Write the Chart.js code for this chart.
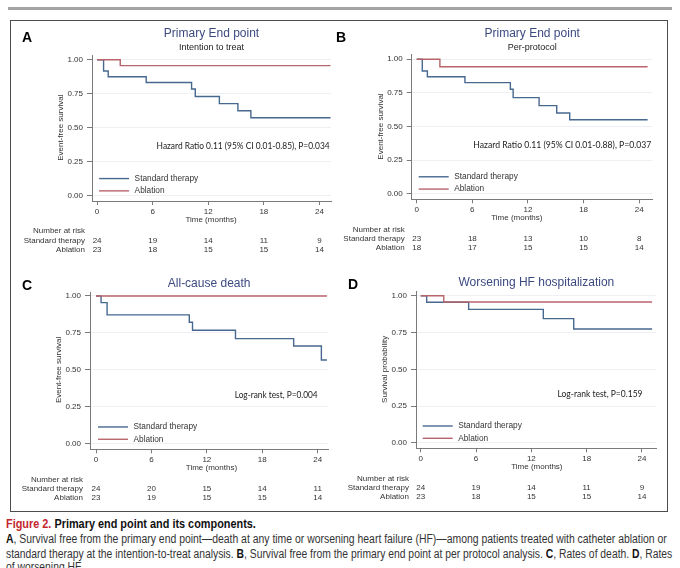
<!DOCTYPE html>
<html>
<head>
<meta charset="utf-8">
<script src="https://cdn.jsdelivr.net/npm/chart.js@4.4.1/dist/chart.umd.min.js"></script>
<style>
  body { margin: 0; background: #fff; }
  #page { position: relative; width: 680px; height: 568px; overflow: hidden; font-family: "Liberation Sans", Arial, sans-serif; }
  #topbar { position: absolute; left: 8px; top: 7px; width: 664px; height: 3px; background: #a3a3a3; }
  #frame { position: absolute; left: 10px; top: 20px; width: 656px; height: 490px; border: 1px solid #4d4d4d; }
  canvas { position: absolute; }
  .cap { position: absolute; left: 6px; white-space: nowrap; line-height: 14px; font-family: "Liberation Sans Narrow", "Liberation Sans", sans-serif; font-size: 12.5px; color: #333; transform-origin: 0 0; }
  .cap b { color: #111; }
</style>
</head>
<body>
<div id="page">
  <div id="topbar"></div>
  <div id="frame"></div>
  <canvas id="cA" width="322" height="240" style="left:11px;top:21px"></canvas>
  <canvas id="cB" width="333" height="240" style="left:333px;top:21px"></canvas>
  <canvas id="cC" width="322" height="248" style="left:11px;top:261px"></canvas>
  <canvas id="cD" width="333" height="248" style="left:333px;top:261px"></canvas>

  <div class="cap" data-w="250" style="top:517px"><b><span style="color:#c4262e">Figure 2.</span> Primary end point and its components.</b></div>
  <div class="cap" data-w="661" style="top:532px"><b>A</b>, Survival free from the primary end point—death at any time or worsening heart failure (HF)—among patients treated with catheter ablation or</div>
  <div class="cap" data-w="666" style="top:547px">standard therapy at the intention-to-treat analysis. <b>B</b>, Survival free from the primary end point at per protocol analysis. <b>C</b>, Rates of death. <b>D</b>, Rates</div>
  <div class="cap" id="capLast" style="top:560px">of worsening HF.</div>
</div>

<script>
// ticks and risk-table columns
const xTicks = [0, 6, 12, 18, 24];
const yTicks = [0, 0.25, 0.5, 0.75, 1];
const riskTimes = [0, 6, 12, 18, 24];
const seriesNames = ['Standard therapy', 'Ablation'];

// A - primary end point, intention to treat
const aStdTime = [0, 0.7, 1.2, 5.3, 10.2, 10.6, 13.2, 15.2, 16.6, 25.2];
const aStdSurv = [1, 0.917, 0.875, 0.833, 0.785, 0.729, 0.677, 0.625, 0.573, 0.573];
const aAblTime = [0, 2.5, 25.2];
const aAblSurv = [1, 0.957, 0.957];
const aRiskStd = [24, 19, 14, 11, 9];
const aRiskAbl = [23, 18, 15, 15, 14];

// B - primary end point, per-protocol
const bStdTime = [0, 0.6, 1.15, 5.2, 10.1, 10.4, 13.2, 15.1, 16.5, 24.9];
const bStdSurv = [1, 0.913, 0.870, 0.826, 0.777, 0.715, 0.655, 0.600, 0.550, 0.550];
const bAblTime = [0, 2.5, 24.9];
const bAblSurv = [1, 0.944, 0.944];
const bRiskStd = [23, 18, 13, 10, 8];
const bRiskAbl = [18, 17, 15, 15, 14];

// C - all-cause death
const cStdTime = [0, 0.55, 1.2, 10.1, 10.45, 15.1, 21.4, 24.4, 25.0];
const cStdSurv = [1, 0.955, 0.872, 0.822, 0.768, 0.712, 0.662, 0.567, 0.567];
const cAblTime = [0, 25.0];
const cAblSurv = [1, 1];
const cRiskStd = [24, 20, 15, 14, 11];
const cRiskAbl = [23, 19, 15, 15, 14];

// D - worsening HF hospitalization
const dStdTime = [0, 0.65, 5.2, 13.3, 16.6, 25.1];
const dStdSurv = [1, 0.955, 0.907, 0.844, 0.774, 0.774];
const dAblTime = [0, 2.5, 25.1];
const dAblSurv = [1, 0.957, 0.957];
const dRiskStd = [24, 19, 14, 11, 9];
const dRiskAbl = [23, 18, 15, 15, 14];

const BLUE = '#47688f', RED = '#b9646b', TITLE = '#3d4a80';
const AXIS = '#7a7a7a', GRID = '#eef0f4', TXT = '#333';
const SANS = '"Liberation Sans", Arial, sans-serif';
const Y_W = 40, X_H = 20;

const panels = [
  { id: 'cA', letter: 'A', title: 'Primary End point', sub: 'Intention to treat', ylab: 'Event-free survival',
    note: 'Hazard Ratio 0.11 (95% CI 0.01-0.85), P=0.034',
    std: [aStdTime, aStdSurv], abl: [aAblTime, aAblSurv], risk: [aRiskStd, aRiskAbl],
    area: [81, 34, 320, 180], xr: [-0.55, 25.25], yr: [-0.04, 1.035],
    letterAt: [11, 21], titleY: 13, subY: 26.7, noteAt: [25.1, 173], timeAt: 12.3 },
  { id: 'cB', letter: 'B', title: 'Primary End point', sub: 'Per-protocol', ylab: 'Event-free survival',
    note: 'Hazard Ratio 0.11 (95% CI 0.01-0.88), P=0.037',
    std: [bStdTime, bStdSurv], abl: [bAblTime, bAblSurv], risk: [bRiskStd, bRiskAbl],
    area: [78.7, 33, 319.7, 178.3], xr: [-0.54, 25.45], yr: [-0.041, 1.039],
    letterAt: [3, 20.5], titleY: 12.3, subY: 26.7, noteAt: [25.3, 178], timeAt: 10.8 },
  { id: 'cC', letter: 'C', title: 'All-cause death', ylab: 'Event-free survival',
    note: 'Log-rank test, P=0.004',
    std: [cStdTime, cStdSurv], abl: [cAblTime, cAblSurv], risk: [cRiskStd, cRiskAbl],
    area: [79, 31.7, 317.3, 188.3], xr: [-0.65, 25.15], yr: [-0.036, 1.022],
    letterAt: [11, 29], titleY: 23, noteAt: [24.0, 83], timeAt: 12.5 },
  { id: 'cD', letter: 'D', title: 'Worsening HF hospitalization', ylab: 'Survival probability',
    note: 'Log-rank test, P=0.159',
    std: [dStdTime, dStdSurv], abl: [dAblTime, dAblSurv], risk: [dRiskStd, dRiskAbl],
    area: [83, 30.7, 323.7, 187.3], xr: [-0.51, 25.6], yr: [-0.036, 1.027],
    letterAt: [15, 28], titleY: 21.7, noteAt: [24.06, 85], timeAt: 12.6 }
];

const toXY = (ts, ss) => ts.map((t, i) => ({ x: t, y: ss[i] }));

function makePanel(p) {
  const canvas = document.getElementById(p.id);
  const W = canvas.width, H = canvas.height;
  const [aL, aT, aR, aB] = p.area;

  const decor = {
    id: 'decor',
    afterDraw(chart) {
      const { ctx, chartArea: ca, scales: { x, y } } = chart;
      const x0 = x.getPixelForValue(0), y0 = y.getPixelForValue(0);
      ctx.save();
      // panel letter
      ctx.fillStyle = '#000'; ctx.font = 'bold 14px ' + SANS;
      ctx.textAlign = 'left'; ctx.textBaseline = 'alphabetic';
      ctx.fillText(p.letter, p.letterAt[0], p.letterAt[1]);
      // title + subtitle
      const mid = (ca.left + ca.right) / 2;
      ctx.textAlign = 'center'; ctx.textBaseline = 'middle';
      ctx.fillStyle = TITLE; ctx.font = '12px ' + SANS;
      ctx.fillText(p.title, mid, p.titleY);
      if (p.sub) { ctx.fillStyle = '#222'; ctx.font = '9px ' + SANS; ctx.fillText(p.sub, mid, p.subY); }
      // y axis title
      ctx.fillStyle = TXT; ctx.font = '8px ' + SANS;
      ctx.save();
      ctx.translate(ca.left - 31, (y0 + y.getPixelForValue(1)) / 2);
      ctx.rotate(-Math.PI / 2);
      ctx.fillText(p.ylab, 0, 0);
      ctx.restore();
      // x axis title
      ctx.fillText('Time (months)', x.getPixelForValue(p.timeAt), ca.bottom + 18.7);
      // HR / log-rank note
      ctx.font = '9px Lato, sans-serif'; ctx.fillStyle = '#222';
      const nw = ctx.measureText(p.note).width;
      ctx.save();
      ctx.translate(x.getPixelForValue(p.noteAt[0]), y0 - 49);
      ctx.scale(p.noteAt[1] / nw, 1);
      ctx.textAlign = 'right';
      ctx.fillText(p.note, 0, 0);
      ctx.restore();
      // legend inside the plot
      ctx.font = '8.3px ' + SANS; ctx.textAlign = 'left'; ctx.fillStyle = TXT;
      [[BLUE, seriesNames[0], 17], [RED, seriesNames[1], 4.7]].forEach(([col, name, dy]) => {
        ctx.strokeStyle = col; ctx.lineWidth = 1.4;
        ctx.beginPath(); ctx.moveTo(x0 + 2, y0 - dy); ctx.lineTo(x0 + 32, y0 - dy); ctx.stroke();
        ctx.fillText(name, x0 + 37.5, y0 - dy);
      });
      // number at risk table
      ctx.font = '8px ' + SANS; ctx.textAlign = 'right';
      ctx.fillText('Number at risk', ca.left - 7, ca.bottom + 30);
      ctx.fillText(seriesNames[0], ca.left - 7, ca.bottom + 39.3);
      ctx.fillText(seriesNames[1], ca.left - 7, ca.bottom + 48.7);
      ctx.textAlign = 'center';
      riskTimes.forEach((t, i) => {
        const px = x.getPixelForValue(t);
        ctx.fillText(String(p.risk[0][i]), px, ca.bottom + 39.3);
        ctx.fillText(String(p.risk[1][i]), px, ca.bottom + 48.7);
      });
      ctx.restore();
    }
  };

  return new Chart(canvas, {
    type: 'line',
    data: {
      datasets: [
        { label: seriesNames[0], data: toXY(p.std[0], p.std[1]), borderColor: BLUE, stepped: 'before', order: 1 },
        { label: seriesNames[1], data: toXY(p.abl[0], p.abl[1]), borderColor: RED, stepped: 'before', order: 0 }
      ]
    },
    options: {
      responsive: false, animation: false, devicePixelRatio: 1,
      layout: { padding: { left: aL - Y_W, top: aT, right: W - aR, bottom: H - aB - X_H } },
      elements: { point: { radius: 0 }, line: { borderWidth: 1.4, tension: 0, fill: false } },
      plugins: { legend: { display: false }, tooltip: { enabled: false } },
      scales: {
        x: {
          type: 'linear', min: p.xr[0], max: p.xr[1],
          afterBuildTicks: s => { s.ticks = xTicks.map(v => ({ value: v })); },
          afterFit: s => { s.height = X_H; },
          grid: { drawOnChartArea: false, tickLength: 4, color: AXIS, tickColor: AXIS },
          border: { color: AXIS, width: 1 },
          ticks: { color: TXT, font: { family: SANS, size: 8 }, padding: 2, maxRotation: 0, callback: v => String(v) }
        },
        y: {
          type: 'linear', min: p.yr[0], max: p.yr[1],
          afterBuildTicks: s => { s.ticks = yTicks.map(v => ({ value: v })); },
          afterFit: s => { s.width = Y_W; },
          grid: { color: GRID, tickColor: AXIS, tickLength: 5 },
          border: { color: AXIS, width: 1 },
          ticks: { color: TXT, font: { family: SANS, size: 8 }, padding: 4, callback: v => v.toFixed(2) }
        }
      }
    },
    plugins: [decor]
  });
}

panels.forEach(makePanel);

// squeeze caption lines to the widths of the printed figure legend
let lastScale = 1;
document.querySelectorAll('.cap[data-w]').forEach(el => {
  lastScale = el.dataset.w / el.offsetWidth;
  el.style.transform = `scaleX(${lastScale})`;
});
document.getElementById('capLast').style.transform = `scaleX(${lastScale})`;
</script>
</body>
</html>
